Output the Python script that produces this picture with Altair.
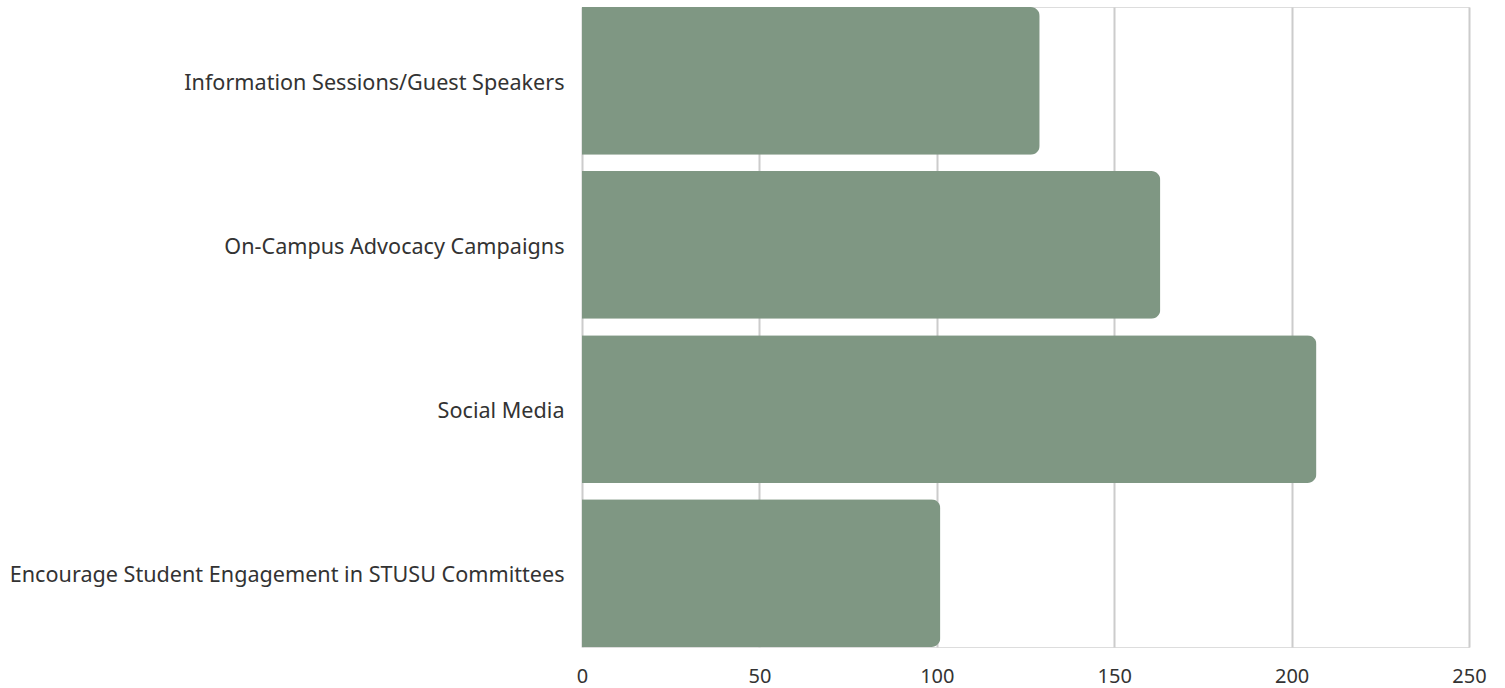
import altair as alt
import pandas as pd

categories = [
    "Information Sessions/Guest Speakers",
    "On-Campus Advocacy Campaigns",
    "Social Media",
    "Encourage Student Engagement in STUSU Committees",
]
values = [129, 163, 207, 101]

df = pd.DataFrame({"category": categories, "value": values})

chart = (
    alt.Chart(df)
    .mark_bar(color="#7f9783", cornerRadiusEnd=9)
    .encode(
        y=alt.Y(
            "category:N",
            sort=categories,
            title=None,
            scale=alt.Scale(paddingInner=0.1, paddingOuter=0),
            axis=alt.Axis(
                labelFont="Noto Sans",
                labelFontSize=21.6,
                labelColor="#333333",
                labelPadding=18,
                labelOffset=3,
                ticks=False,
                domain=False,
                grid=False,
                labelLimit=700,
            ),
        ),
        x=alt.X(
            "value:Q",
            title=None,
            scale=alt.Scale(domain=[0, 250]),
            axis=alt.Axis(
                values=[0, 50, 100, 150, 200, 250],
                labelFont="Noto Sans",
                labelFontSize=20,
                labelColor="#333333",
                labelPadding=19,
                labelFlush=False,
                ticks=False,
                domain=False,
                grid=True,
                gridColor="#cccccc",
                gridWidth=2,
            ),
        ),
    )
    .properties(
        width=887,
        height=640,
        autosize=alt.AutoSizeParams(type="none"),
        padding={"left": 582, "top": 7, "right": 36, "bottom": 41},
    )
    .configure_view(stroke="transparent", strokeWidth=0)
    .configure(background="white")
)

chart.save("out.html", embed_options={"renderer": "svg", "actions": False})
